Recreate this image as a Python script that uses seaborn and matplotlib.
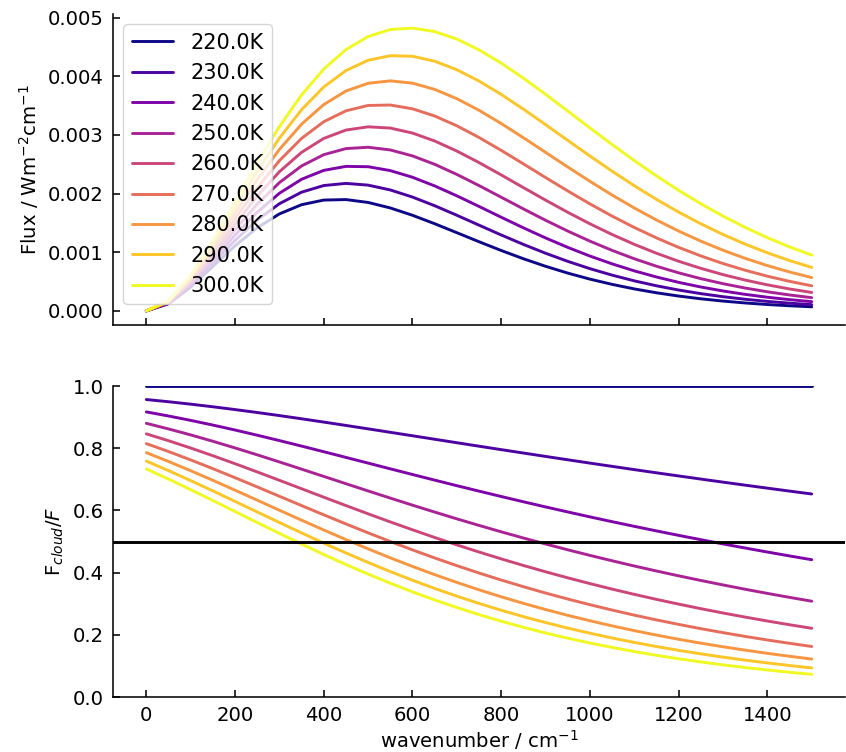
import numpy as np
import pandas as pd
import seaborn as sns
import matplotlib.pyplot as plt

# wavenumber grid (cm^-1) and temperatures (K)
wavenumber = [0, 50, 100, 150, 200, 250, 300, 350, 400, 450, 500, 550, 600, 650, 700, 750,
              800, 850, 900, 950, 1000, 1050, 1100, 1150, 1200, 1250, 1300, 1350, 1400, 1450, 1500]
temps = [220, 230, 240, 250, 260, 270, 280, 290, 300]

# flux (W m^-2 cm^-1)
flux_220 = [0, 0.0001209, 0.0004053, 0.0007575, 0.0011092, 0.0014159, 0.0016526, 0.0018097,
            0.0018886, 0.0018972, 0.0018480, 0.0017543, 0.0016295, 0.0014856, 0.0013326, 0.0011785,
            0.0010292, 0.0008888, 0.0007600, 0.0006440, 0.0005413, 0.0004517, 0.0003744, 0.0003084,
            0.0002526, 0.0002059, 0.0001670, 0.0001348, 0.0001084, 0.0000869, 0.0000693]
flux_230 = [0, 0.0001274, 0.0004304, 0.0008117, 0.0012001, 0.0015478, 0.0018264, 0.0020230,
            0.0021363, 0.0021727, 0.0021432, 0.0020611, 0.0019399, 0.0017924, 0.0016298, 0.0014612,
            0.0012938, 0.0011330, 0.0009824, 0.0008443, 0.0007197, 0.0006091, 0.0005120, 0.0004278,
            0.0003554, 0.0002938, 0.0002417, 0.0001980, 0.0001615, 0.0001312, 0.0001062]
flux_240 = [0, 0.0001338, 0.0004557, 0.0008663, 0.0012921, 0.0016820, 0.0020044, 0.0022433,
            0.0023946, 0.0024626, 0.0024572, 0.0023910, 0.0022776, 0.0021302, 0.0019610, 0.0017802,
            0.0015963, 0.0014157, 0.0012433, 0.0010823, 0.0009346, 0.0008012, 0.0006822, 0.0005775,
            0.0004861, 0.0004070, 0.0003392, 0.0002815, 0.0002326, 0.0001915, 0.0001571]
flux_250 = [0, 0.0001403, 0.0004809, 0.0009212, 0.0013849, 0.0018182, 0.0021862, 0.0024699,
            0.0026624, 0.0027660, 0.0027889, 0.0027429, 0.0026415, 0.0024983, 0.0023259, 0.0021357,
            0.0019373, 0.0017382, 0.0015445, 0.0013603, 0.0011886, 0.0010311, 0.0008885, 0.0007611,
            0.0006483, 0.0005494, 0.0004634, 0.0003891, 0.0003254, 0.0002711, 0.0002251]
flux_260 = [0, 0.0001467, 0.0005063, 0.0009763, 0.0014786, 0.0019563, 0.0023716, 0.0027024,
            0.0029392, 0.0030819, 0.0031372, 0.0031158, 0.0030308, 0.0028957, 0.0027239, 0.0025276,
            0.0023171, 0.0021014, 0.0018873, 0.0016804, 0.0014843, 0.0013017, 0.0011341, 0.0009821,
            0.0008458, 0.0007247, 0.0006180, 0.0005247, 0.0004437, 0.0003737, 0.0003137]
flux_270 = [0, 0.0001532, 0.0005316, 0.0010317, 0.0015730, 0.0020960, 0.0025601, 0.0029402,
            0.0032241, 0.0034094, 0.0035011, 0.0035086, 0.0034442, 0.0033217, 0.0031545, 0.0029554,
            0.0027358, 0.0025056, 0.0022728, 0.0020439, 0.0018236, 0.0016154, 0.0014217, 0.0012437,
            0.0010820, 0.0009365, 0.0008068, 0.0006921, 0.0005912, 0.0005031, 0.0004267]
flux_280 = [0, 0.0001597, 0.0005571, 0.0010873, 0.0016680, 0.0022372, 0.0027515, 0.0031829,
            0.0035166, 0.0037478, 0.0038796, 0.0039201, 0.0038809, 0.0037752, 0.0036167, 0.0034187,
            0.0031933, 0.0029513, 0.0027017, 0.0024520, 0.0022081, 0.0019744, 0.0017539, 0.0015488,
            0.0013602, 0.0011885, 0.0010336, 0.0008950, 0.0007718, 0.0006631, 0.0005677]
flux_290 = [0, 0.0001661, 0.0005825, 0.0011431, 0.0017636, 0.0023798, 0.0029455, 0.0034300,
            0.0038160, 0.0040963, 0.0042718, 0.0043494, 0.0043396, 0.0042551, 0.0041096, 0.0039166,
            0.0036889, 0.0034381, 0.0031742, 0.0029056, 0.0026392, 0.0023803, 0.0021330, 0.0019000,
            0.0016833, 0.0014838, 0.0013018, 0.0011372, 0.0009894, 0.0008575, 0.0007407]
flux_300 = [0, 0.0001726, 0.0006080, 0.0011991, 0.0018598, 0.0025236, 0.0031419, 0.0036813,
            0.0041219, 0.0044541, 0.0046769, 0.0047955, 0.0048192, 0.0047604, 0.0046321, 0.0044483,
            0.0042222, 0.0039660, 0.0036905, 0.0034051, 0.0031177, 0.0028346, 0.0025607, 0.0022996,
            0.0020539, 0.0018253, 0.0016146, 0.0014220, 0.0012474, 0.0010901, 0.0009493]

# F_cloud / F
ratio_220 = [1.0] * 31
ratio_230 = [0.9565, 0.9494, 0.9416, 0.9332, 0.9242, 0.9148, 0.9049, 0.8946, 0.8840, 0.8732, 0.8622,
             0.8511, 0.8400, 0.8288, 0.8176, 0.8065, 0.7954, 0.7845, 0.7736, 0.7628, 0.7521,
             0.7416, 0.7312, 0.7209, 0.7108, 0.7008, 0.6909, 0.6812, 0.6716, 0.6621, 0.6528]
ratio_240 = [0.9167, 0.9036, 0.8895, 0.8744, 0.8585, 0.8418, 0.8245, 0.8068, 0.7887, 0.7704, 0.7521,
             0.7337, 0.7155, 0.6974, 0.6795, 0.6620, 0.6447, 0.6278, 0.6112, 0.5951, 0.5792,
             0.5638, 0.5488, 0.5341, 0.5198, 0.5059, 0.4923, 0.4791, 0.4662, 0.4537, 0.4415]
ratio_250 = [0.8800, 0.8620, 0.8428, 0.8223, 0.8009, 0.7787, 0.7559, 0.7327, 0.7093, 0.6859, 0.6626,
             0.6396, 0.6169, 0.5947, 0.5729, 0.5518, 0.5312, 0.5113, 0.4921, 0.4734, 0.4554,
             0.4381, 0.4213, 0.4052, 0.3897, 0.3748, 0.3604, 0.3465, 0.3332, 0.3204, 0.3081]
ratio_260 = [0.8462, 0.8241, 0.8006, 0.7759, 0.7502, 0.7237, 0.6968, 0.6697, 0.6425, 0.6156, 0.5891,
             0.5630, 0.5377, 0.5130, 0.4892, 0.4662, 0.4442, 0.4230, 0.4027, 0.3833, 0.3647,
             0.3470, 0.3301, 0.3140, 0.2987, 0.2841, 0.2702, 0.2570, 0.2444, 0.2324, 0.2210]
ratio_270 = [0.8148, 0.7893, 0.7624, 0.7342, 0.7052, 0.6755, 0.6455, 0.6155, 0.5858, 0.5565, 0.5278,
             0.5000, 0.4731, 0.4472, 0.4224, 0.3987, 0.3762, 0.3547, 0.3344, 0.3151, 0.2969,
             0.2796, 0.2633, 0.2480, 0.2335, 0.2198, 0.2070, 0.1948, 0.1834, 0.1727, 0.1625]
ratio_280 = [0.7857, 0.7574, 0.7276, 0.6967, 0.6650, 0.6329, 0.6006, 0.5686, 0.5370, 0.5062, 0.4763,
             0.4475, 0.4199, 0.3935, 0.3685, 0.3447, 0.3223, 0.3012, 0.2813, 0.2626, 0.2452,
             0.2288, 0.2135, 0.1991, 0.1857, 0.1732, 0.1616, 0.1507, 0.1405, 0.1310, 0.1221]
ratio_290 = [0.7586, 0.7279, 0.6958, 0.6627, 0.6289, 0.5949, 0.5611, 0.5276, 0.4949, 0.4632, 0.4326,
             0.4033, 0.3755, 0.3491, 0.3243, 0.3009, 0.2790, 0.2585, 0.2394, 0.2216, 0.2051,
             0.1898, 0.1755, 0.1623, 0.1501, 0.1388, 0.1283, 0.1186, 0.1096, 0.1013, 0.0936]
ratio_300 = [0.7333, 0.7006, 0.6666, 0.6318, 0.5964, 0.5610, 0.5260, 0.4916, 0.4582, 0.4260, 0.3951,
             0.3658, 0.3381, 0.3121, 0.2877, 0.2649, 0.2437, 0.2241, 0.2059, 0.1891, 0.1736,
             0.1594, 0.1462, 0.1341, 0.1230, 0.1128, 0.1034, 0.0948, 0.0869, 0.0797, 0.0730]

fluxes = [flux_220, flux_230, flux_240, flux_250, flux_260, flux_270, flux_280, flux_290, flux_300]
ratios = [ratio_220, ratio_230, ratio_240, ratio_250, ratio_260, ratio_270, ratio_280, ratio_290, ratio_300]
labels = [f"{t:.1f}K" for t in temps]

df = pd.DataFrame({
    "wavenumber": np.tile(wavenumber, len(temps)),
    "T": np.repeat(labels, len(wavenumber)),
    "flux": np.concatenate(fluxes),
    "ratio": np.concatenate(ratios),
})

sns.set_style("ticks", {"xtick.direction": "in", "ytick.direction": "in",
                        "axes.edgecolor": "black", "text.color": "black",
                        "axes.labelcolor": "black", "xtick.color": "black",
                        "ytick.color": "black"})
plt.rcParams.update({
    "font.family": "DejaVu Sans",
    "font.size": 14.1,
    "legend.fontsize": 15,
    "lines.linewidth": 2.1,
    "axes.linewidth": 1.13,
    "xtick.major.size": 4.9, "ytick.major.size": 4.9,
    "xtick.major.width": 1.13, "ytick.major.width": 1.13,
    "xtick.major.pad": 6.8, "ytick.major.pad": 6.8,
})

colors = [tuple(c) for c in sns.color_palette("plasma", as_cmap=True)(np.linspace(0, 1, len(temps)))]

fig, (ax1, ax2) = plt.subplots(2, 1, figsize=(8.46, 7.52), dpi=100, sharex=True)
ax1.set_position([0.1336, 0.5678, 0.8652, 0.4136])
ax2.set_position([0.1336, 0.0731, 0.8652, 0.4136])

sns.lineplot(data=df, x="wavenumber", y="flux", hue="T", hue_order=labels, palette=colors,
             estimator=None, errorbar=None, legend=False, lw=2.1, ax=ax1)
ax1.legend(ax1.lines, labels, loc="upper left")
ax1.set_ylabel(r"Flux / Wm$^{-2}$cm$^{-1}$", labelpad=5)
ax1.set_xlabel(r"wavenumber / cm$^{-1}$", labelpad=2)
ax1.tick_params(labelbottom=False)

sns.lineplot(data=df, x="wavenumber", y="ratio", hue="T", hue_order=labels, palette=colors,
             estimator=None, errorbar=None, legend=False, lw=2.1, ax=ax2)
ax2.axhline(0.5, color="black", lw=2.1)
ax2.set_ylim(0, 1.0)
ax2.set_xlim(-75, 1575)
ax2.set_xticks([0, 200, 400, 600, 800, 1000, 1200, 1400])
ax2.set_ylabel(r"F$_{cloud}$/$F$", labelpad=5)
ax2.set_xlabel(r"wavenumber / cm$^{-1}$", labelpad=2)

sns.despine(fig=fig)

fig.savefig("out.png", dpi=100)
